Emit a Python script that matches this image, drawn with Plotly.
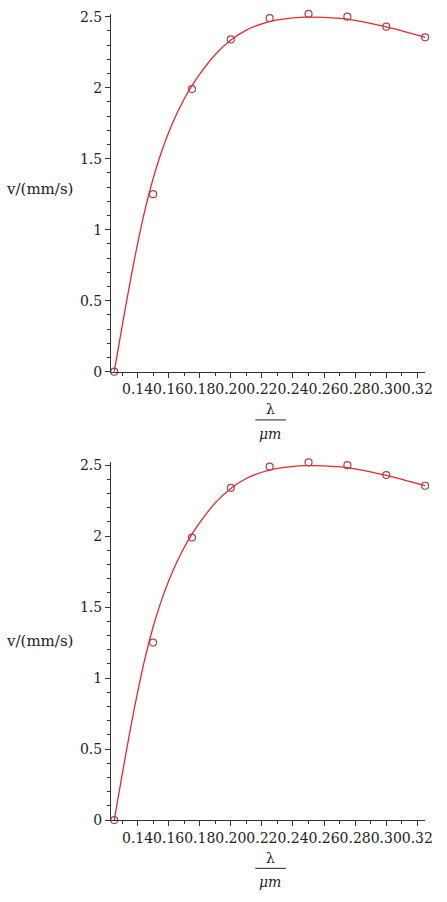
import plotly.graph_objects as go

# measured data points
lam_pts = [0.125, 0.15, 0.175, 0.2, 0.225, 0.25, 0.275, 0.3, 0.325]
v_pts = [0.0, 1.25, 1.99, 2.34, 2.49, 2.52, 2.50, 2.43, 2.355]

# fitted curve
lam_fit = [0.125, 0.130, 0.135, 0.140, 0.145, 0.150, 0.155, 0.160, 0.165, 0.170,
           0.175, 0.180, 0.190, 0.200, 0.210, 0.220, 0.230, 0.240, 0.250, 0.260,
           0.275, 0.300, 0.325]
v_fit = [0.0, 0.315, 0.618, 0.90, 1.15, 1.36, 1.535, 1.684, 1.811, 1.92,
         2.014, 2.096, 2.234, 2.336, 2.406, 2.45, 2.477, 2.492, 2.497, 2.495,
         2.483, 2.428, 2.355]

x_ticks = [0.14, 0.16, 0.18, 0.20, 0.22, 0.24, 0.26, 0.28, 0.30, 0.32]
x_labels = ["0.14", "0.16", "0.18", "0.20", "0.22", "0.24", "0.26", "0.28", "0.30", "0.32"]
x_minor = [0.13, 0.15, 0.17, 0.19, 0.21, 0.23, 0.25, 0.27, 0.29, 0.31]

W, H = 447, 902
FONT = "DejaVu Serif"
CURVE = "#e8282c"
PT = "#b0404c"
AX = "#333333"
TXT = "#222222"

fig = go.Figure()
for xa, ya in [("x", "y"), ("x2", "y2")]:
    fig.add_trace(go.Scatter(x=lam_fit, y=v_fit, mode="lines", xaxis=xa, yaxis=ya,
                             line=dict(color=CURVE, width=1.3, shape="spline", smoothing=0.8),
                             showlegend=False, hoverinfo="skip"))
    fig.add_trace(go.Scatter(x=lam_pts, y=v_pts, mode="markers", xaxis=xa, yaxis=ya,
                             marker=dict(symbol="circle-open", size=7, color=PT, line=dict(width=1.2, color=PT)),
                             cliponaxis=False, showlegend=False))

xdom = [113 / W, 433 / W]
ydoms = [[(H - 372) / H, (H - 9) / H], [(H - 827) / H, (H - 464) / H]]


def xaxis_cfg(anchor):
    return dict(domain=xdom, anchor=anchor, range=[0.1229, 0.3251],
                tickmode="array", tickvals=x_ticks, ticktext=x_labels, tickangle=0,
                ticks="outside", ticklen=5, tickwidth=1, tickcolor=AX,
                showline=True, linecolor=AX, linewidth=1, showgrid=False, zeroline=False,
                minor=dict(tickmode="array", tickvals=x_minor,
                           ticks="outside", ticklen=3, tickcolor=AX, showgrid=False),
                tickfont=dict(family=FONT, size=14, color=TXT))


def yaxis_cfg(anchor, dom):
    return dict(domain=dom, anchor=anchor, range=[0, 2.52],
                tick0=0, dtick=0.5, ticks="outside", ticklen=5, tickwidth=1, tickcolor=AX,
                showline=True, linecolor=AX, linewidth=1, showgrid=False, zeroline=False,
                minor=dict(dtick=0.1, ticks="outside", ticklen=3, tickcolor=AX, showgrid=False),
                tickfont=dict(family=FONT, size=14, color=TXT))


fig.update_layout(
    width=W, height=H, margin=dict(l=0, r=0, t=0, b=0),
    paper_bgcolor="white", plot_bgcolor="white",
    xaxis=xaxis_cfg("y"), yaxis=yaxis_cfg("x", ydoms[0]),
    xaxis2=xaxis_cfg("y2"), yaxis2=yaxis_cfg("x2", ydoms[1]),
    showlegend=False,
)

# axis titles
for ylab_y, lam_y, bar_y, mu_y in [(187, 410, 421, 435), (645, 865, 876, 890)]:
    fig.add_annotation(x=40 / W, y=1 - ylab_y / H, xref="paper", yref="paper",
                       text="v/(mm/s)", showarrow=False, xanchor="center", yanchor="middle",
                       font=dict(family=FONT, size=15, color=TXT))
    fig.add_annotation(x=275 / W, y=1 - lam_y / H, xref="paper", yref="paper",
                       text="λ", showarrow=False, xanchor="center", yanchor="middle",
                       font=dict(family=FONT, size=14, color=TXT))
    fig.add_annotation(x=275 / W, y=1 - mu_y / H, xref="paper", yref="paper",
                       text="<i>μm</i>", showarrow=False, xanchor="center", yanchor="middle",
                       font=dict(family=FONT, size=14, color=TXT))
    fig.add_shape(type="line", xref="paper", yref="paper",
                  x0=260 / W, x1=291 / W, y0=1 - bar_y / H, y1=1 - bar_y / H,
                  line=dict(color=TXT, width=1))

fig.write_html("out.html")
